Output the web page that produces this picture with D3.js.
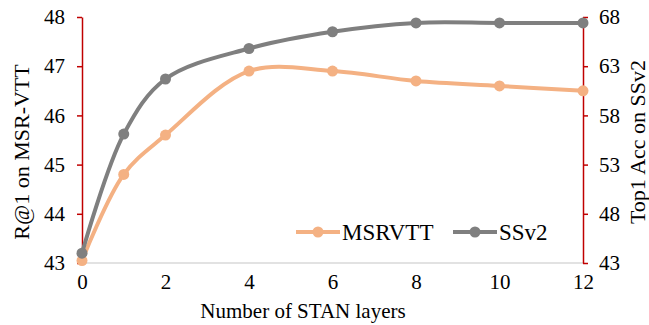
<!DOCTYPE html>
<html>
<head>
<meta charset="utf-8">
<script src="https://cdn.jsdelivr.net/npm/d3@7"></script>
<style>
  body { margin: 0; background: #fff; }
</style>
</head>
<body>
<svg id="chart" width="649" height="325"></svg>
<script>
const layers = [0, 1, 2, 4, 6, 8, 10, 12];
const msrvtt = [43.05, 44.8, 45.6, 46.9, 46.9, 46.7, 46.6, 46.5];
const ssv2 = [44.0, 56.1, 61.7, 64.8, 66.5, 67.4, 67.4, 67.4];
const xTicks = [0, 2, 4, 6, 8, 10, 12];
const leftTicks = [43, 44, 45, 46, 47, 48];
const rightTicks = [43, 48, 53, 58, 63, 68];

const svg = d3.select('#chart');
const plotL = 82, plotR = 583, plotT = 17, plotB = 263;
const serif = "Liberation Serif, Times New Roman, Times, DejaVu Serif, serif";

const x = d3.scaleLinear().domain([0, 12]).range([plotL, plotR]);
const yL = d3.scaleLinear().domain([43, 48]).range([plotB, plotT]);
const yR = d3.scaleLinear().domain([43, 68]).range([plotB, plotT]);

// bottom axis line
svg.append('line')
   .attr('x1', plotL).attr('x2', plotR)
   .attr('y1', plotB).attr('y2', plotB)
   .attr('stroke', '#d9d9d9').attr('stroke-width', 1.5);

const xAxis = svg.append('g')
   .attr('transform', `translate(0,${plotB})`)
   .call(d3.axisBottom(x).tickValues(xTicks).tickSize(0).tickPadding(11).tickFormat(d3.format('d')));
xAxis.select('.domain').remove();

const red = '#c00000';
const leftAxis = svg.append('g')
   .attr('transform', `translate(${plotL},0)`)
   .call(d3.axisLeft(yL).tickValues(leftTicks).tickSize(5).tickSizeOuter(0).tickPadding(12).tickFormat(d3.format('d')));
const rightAxis = svg.append('g')
   .attr('transform', `translate(${plotR},0)`)
   .call(d3.axisRight(yR).tickValues(rightTicks).tickSize(5).tickSizeOuter(0).tickPadding(11).tickFormat(d3.format('d')));
[leftAxis, rightAxis].forEach(a => {
    a.select('.domain').attr('stroke', red).attr('stroke-width', 1.5);
    a.selectAll('.tick line').attr('stroke', red).attr('stroke-width', 1.5);
});
[xAxis, leftAxis, rightAxis].forEach(a => {
    a.attr('font-family', serif).attr('font-size', 21);
});

const series = [
    { name: 'MSRVTT', values: msrvtt, y: yL, color: '#f4b183' },
    { name: 'SSv2', values: ssv2, y: yR, color: '#7f7f7f' }
];

series.forEach(s => {
    const line = d3.line()
        .x((d, i) => x(layers[i]))
        .y(d => s.y(d))
        .curve(d3.curveCatmullRom.alpha(0.5));
    svg.append('path')
       .datum(s.values)
       .attr('d', line)
       .attr('fill', 'none')
       .attr('stroke', s.color)
       .attr('stroke-width', 4);
    svg.selectAll(null)
       .data(s.values)
       .enter()
       .append('circle')
       .attr('cx', (d, i) => x(layers[i]))
       .attr('cy', d => s.y(d))
       .attr('r', 5.5)
       .attr('fill', s.color);
});

// legend
const legend = [
    { name: 'MSRVTT', color: '#f4b183', x: 296 },
    { name: 'SSv2', color: '#7f7f7f', x: 453 }
];
legend.forEach(l => {
    const g = svg.append('g').attr('transform', `translate(${l.x},232)`);
    g.append('line').attr('x1', 0).attr('x2', 44).attr('stroke', l.color).attr('stroke-width', 4);
    g.append('circle').attr('cx', 22).attr('r', 5.5).attr('fill', l.color);
    g.append('text').attr('x', 46).attr('y', 8).attr('font-size', 23).text(l.name);
});

svg.append('text')
   .attr('x', 303).attr('y', 318)
   .attr('text-anchor', 'middle')
   .attr('font-size', 21)
   .text('Number of STAN layers');

svg.append('text')
   .attr('transform', 'translate(29,152) rotate(-90)')
   .attr('text-anchor', 'middle')
   .attr('font-size', 22)
   .text('R@1 on MSR-VTT');

svg.append('text')
   .attr('transform', 'translate(645,142) rotate(-90)')
   .attr('text-anchor', 'middle')
   .attr('font-size', 22)
   .text('Top1 Acc on SSv2');

svg.selectAll('text').attr('font-family', serif).attr('fill', '#000');
</script>
</body>
</html>
